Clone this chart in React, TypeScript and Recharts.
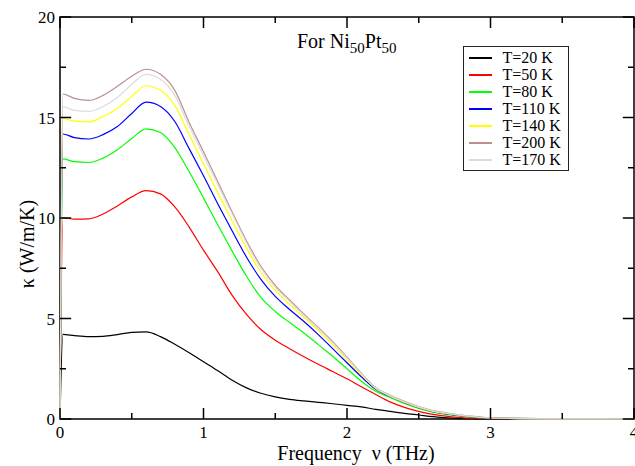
import {
  LineChart,
  Line,
  XAxis,
  YAxis,
  ReferenceLine,
  ReferenceArea,
  Legend,
} from "recharts";

// frequency grid (THz)
const FREQ = [
  0, 0.02, 0.1, 0.2, 0.3, 0.4, 0.5, 0.6, 0.7, 0.8, 0.9, 1.0, 1.1, 1.2, 1.3, 1.4, 1.5,
  1.6, 1.7, 1.8, 1.9, 2.0, 2.1, 2.2, 2.3, 2.4, 2.5, 2.6, 2.7, 2.8, 2.9, 3.0, 3.5, 4.0,
];

// kappa (W/m/K) for each temperature
const K_20 = [
  0, 4.21, 4.15, 4.1, 4.11, 4.2, 4.31, 4.33, 4.1, 3.72, 3.3, 2.85, 2.4, 1.93, 1.55, 1.28,
  1.1, 0.98, 0.9, 0.83, 0.76, 0.68, 0.6, 0.48, 0.38, 0.28, 0.2, 0.12, 0.06, 0.02, 0.01, 0, 0, 0,
];
const K_50 = [
  0, 10.01, 9.94, 9.96, 10.2, 10.6, 11.05, 11.36, 11.2, 10.55, 9.55, 8.4, 7.32, 6.15, 5.2,
  4.45, 3.92, 3.5, 3.1, 2.72, 2.36, 2.0, 1.6, 1.22, 0.85, 0.58, 0.38, 0.23, 0.13, 0.07, 0.04,
  0.02, 0, 0,
];
const K_80 = [
  0, 12.94, 12.8, 12.76, 12.98, 13.4, 13.95, 14.43, 14.25, 13.5, 12.3, 11.0, 9.65, 8.35, 7.1,
  6.05, 5.35, 4.8, 4.28, 3.7, 3.12, 2.5, 1.88, 1.38, 1.07, 0.77, 0.52, 0.34, 0.22, 0.14,
  0.08, 0.04, 0.01, 0,
];
const K_110 = [
  0, 14.18, 14.0, 13.93, 14.15, 14.55, 15.2, 15.76, 15.55, 14.8, 13.45, 12.1, 10.7, 9.35,
  8.05, 6.95, 6.1, 5.45, 4.85, 4.2, 3.5, 2.8, 2.1, 1.48, 1.12, 0.82, 0.56, 0.37, 0.25, 0.16,
  0.09, 0.04, 0.01, 0,
];
const K_140 = [
  0, 14.95, 14.82, 14.78, 15.05, 15.45, 16.05, 16.58, 16.35, 15.6, 14.15, 12.7, 11.25, 9.85,
  8.5, 7.3, 6.4, 5.7, 5.05, 4.4, 3.7, 2.95, 2.2, 1.52, 1.14, 0.84, 0.58, 0.38, 0.26, 0.17,
  0.1, 0.05, 0.01, 0,
];
const K_200 = [
  0, 16.17, 15.95, 15.85, 16.1, 16.55, 17.05, 17.4, 17.15, 16.35, 14.75, 13.3, 11.8, 10.3,
  8.85, 7.6, 6.65, 5.92, 5.22, 4.55, 3.85, 3.08, 2.28, 1.57, 1.18, 0.88, 0.62, 0.42, 0.3, 0.19,
  0.12, 0.05, 0.01, 0,
];
const K_170 = [
  0, 15.54, 15.35, 15.3, 15.55, 16.0, 16.65, 17.15, 16.9, 16.1, 14.55, 13.1, 11.65, 10.2,
  8.75, 7.5, 6.55, 5.85, 5.15, 4.5, 3.8, 3.03, 2.25, 1.55, 1.16, 0.86, 0.6, 0.4, 0.28, 0.18,
  0.11, 0.05, 0.01, 0,
];

const X_MAJOR = [0, 1, 2, 3, 4];
const X_MINOR = [0.5, 1.5, 2.5, 3.5];
const Y_MAJOR = [0, 5, 10, 15, 20];
const Y_MINOR = [2.5, 7.5, 12.5, 17.5];

const SERIES = [
  { key: "t20", name: "T=20 K", color: "#000000", values: K_20 },
  { key: "t50", name: "T=50 K", color: "#ff0000", values: K_50 },
  { key: "t80", name: "T=80 K", color: "#00ff00", values: K_80 },
  { key: "t110", name: "T=110 K", color: "#0000ff", values: K_110 },
  { key: "t140", name: "T=140 K", color: "#ffff00", values: K_140 },
  { key: "t200", name: "T=200 K", color: "#bc8f8f", values: K_200 },
  { key: "t170", name: "T=170 K", color: "#dcdcdc", values: K_170 },
];

const FONT = "'Liberation Serif', 'Times New Roman', serif";

// tick lengths, in data units (inward ticks, like xmgrace)
const XT_MAJOR = 0.55;
const XT_MINOR = 0.3;
const YT_MAJOR = 0.078;
const YT_MINOR = 0.042;

// legend keeps the series order (recharts would sort it by name)
const renderLegend = () => (
  <div
    style={{
      boxSizing: "border-box",
      width: 106,
      height: 125,
      border: "1.5px solid #222",
      background: "#fff",
      paddingTop: 2,
      fontFamily: FONT,
      fontSize: 16,
      color: "#000",
    }}
  >
    {SERIES.map((s) => (
      <div key={s.key} style={{ display: "flex", alignItems: "center", height: 17 }}>
        <div style={{ marginLeft: 4.5, width: 23, height: 2, background: s.color }} />
        <span style={{ marginLeft: 11, lineHeight: "17px", whiteSpace: "nowrap" }}>{s.name}</span>
      </div>
    ))}
  </div>
);

export default function App() {
  const data = FREQ.map((f, i) => {
    const row: Record<string, number> = { f };
    SERIES.forEach((s) => {
      row[s.key] = s.values[i];
    });
    return row;
  });

  const tickStyle = { fill: "#000", fontSize: 17, fontFamily: FONT };

  return (
    <div style={{ position: "absolute", left: 0, top: 0, width: 635, height: 466, background: "#fff" }}>
      <LineChart width={635} height={466} data={data} margin={{ top: 17, right: 1, left: 10, bottom: 6 }}>
        <XAxis
          dataKey="f"
          type="number"
          domain={[0, 4]}
          ticks={X_MAJOR}
          axisLine={false}
          tickLine={false}
          tickSize={0}
          tickMargin={7}
          height={41}
          tick={tickStyle}
          interval={0}
          label={() => (
            <text x={356} y={460} textAnchor="middle" fontFamily={FONT} fontSize={20} fill="#000">
              Frequency {"\u00a0"}ν (THz)
            </text>
          )}
        />
        <YAxis
          type="number"
          domain={[0, 20]}
          ticks={Y_MAJOR}
          axisLine={false}
          tickLine={false}
          tickSize={0}
          tickMargin={5}
          width={50}
          tick={tickStyle}
          interval={0}
          label={() => (
            <text
              x={27}
              y={244}
              transform="rotate(-90, 27, 244)"
              textAnchor="middle"
              dominantBaseline="central"
              fontFamily={FONT}
              fontSize={20}
              fill="#000"
            >
              κ (W/m/K)
            </text>
          )}
        />

        {SERIES.map((s) => (
          <Line
            key={s.key}
            type="monotone"
            dataKey={s.key}
            name={s.name}
            stroke={s.color}
            strokeWidth={1.2}
            dot={false}
            activeDot={false}
            isAnimationActive={false}
          />
        ))}

        {/* frame */}
        <ReferenceArea x1={0} x2={4} y1={0} y2={20} fill="none" stroke="#000" strokeWidth={1.5} />

        {/* inward ticks on all four sides */}
        {X_MAJOR.map((t) => (
          <ReferenceLine key={`xb${t}`} segment={[{ x: t, y: 0 }, { x: t, y: XT_MAJOR }]} stroke="#000" strokeWidth={1.5} />
        ))}
        {X_MAJOR.map((t) => (
          <ReferenceLine key={`xt${t}`} segment={[{ x: t, y: 20 }, { x: t, y: 20 - XT_MAJOR }]} stroke="#000" strokeWidth={1.5} />
        ))}
        {X_MINOR.map((t) => (
          <ReferenceLine key={`xbm${t}`} segment={[{ x: t, y: 0 }, { x: t, y: XT_MINOR }]} stroke="#000" strokeWidth={1.5} />
        ))}
        {X_MINOR.map((t) => (
          <ReferenceLine key={`xtm${t}`} segment={[{ x: t, y: 20 }, { x: t, y: 20 - XT_MINOR }]} stroke="#000" strokeWidth={1.5} />
        ))}
        {Y_MAJOR.map((t) => (
          <ReferenceLine key={`yl${t}`} segment={[{ x: 0, y: t }, { x: YT_MAJOR, y: t }]} stroke="#000" strokeWidth={1.5} />
        ))}
        {Y_MAJOR.map((t) => (
          <ReferenceLine key={`yr${t}`} segment={[{ x: 4, y: t }, { x: 4 - YT_MAJOR, y: t }]} stroke="#000" strokeWidth={1.5} />
        ))}
        {Y_MINOR.map((t) => (
          <ReferenceLine key={`ylm${t}`} segment={[{ x: 0, y: t }, { x: YT_MINOR, y: t }]} stroke="#000" strokeWidth={1.5} />
        ))}
        {Y_MINOR.map((t) => (
          <ReferenceLine key={`yrm${t}`} segment={[{ x: 4, y: t }, { x: 4 - YT_MINOR, y: t }]} stroke="#000" strokeWidth={1.5} />
        ))}

        <Legend
          layout="horizontal"
          verticalAlign="middle"
          align="center"
          content={renderLegend}
          wrapperStyle={{ left: 463, top: 46, width: 106, height: 125, bottom: "auto", right: "auto" }}
        />
      </LineChart>

      <div
        style={{
          position: "absolute",
          left: 297,
          top: 31,
          fontFamily: FONT,
          fontSize: 20,
          lineHeight: "20px",
          color: "#000",
          whiteSpace: "nowrap",
        }}
      >
        For Ni
        <span style={{ fontSize: 15, position: "relative", top: 5 }}>50</span>
        Pt
        <span style={{ fontSize: 15, position: "relative", top: 5 }}>50</span>
      </div>
    </div>
  );
}
